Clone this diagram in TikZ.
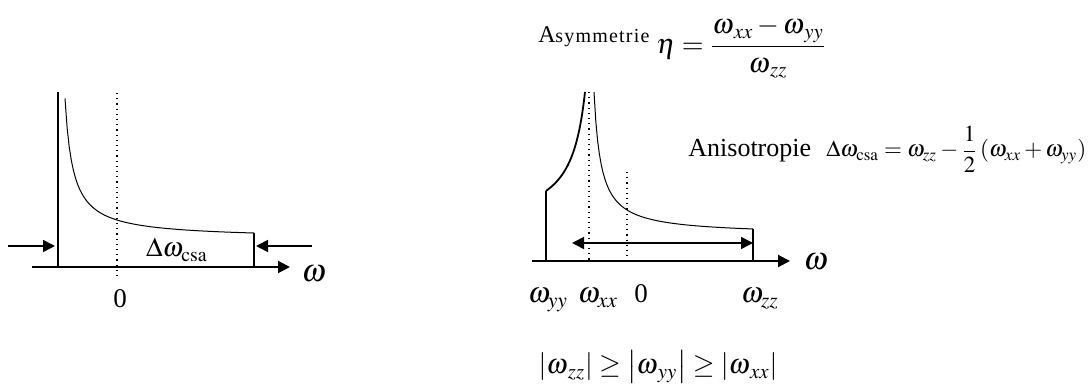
\documentclass[tikz,border=0pt]{standalone}
\usepackage{amsmath}
\usepackage{mathptmx}
\usepackage[no-math]{fontspec}
\setmainfont{Liberation Serif}
\usetikzlibrary{arrows.meta, positioning, calc}

\begin{document}
\begin{tikzpicture}[x=0.5pt, y=-0.5pt, >={Triangle[length=6pt,width=6pt]},
    axis/.style={->, line width=1pt},
    edge/.style={line width=0.9pt},
    spec/.style={line width=0.5pt},
    guide/.style={dotted, line width=0.6pt},
    lbl/.style={font=\fontsize{14.5}{16}\selectfont, inner sep=0pt, anchor=base},
    num/.style={font=\fontsize{12.5}{14}\selectfont, inner sep=0pt, anchor=base}]
  \useasboundingbox (0,0) rectangle (1092,389);

  % Isotropic-like powder pattern (left)
  \begin{scope}
    \coordinate (lax0) at (32,267);
    \coordinate (lax1) at (290,267);
    \draw[axis] (lax0) -- (lax1);
    \draw[edge] (58,92) -- (58,267);
    \draw[edge] (254,233) -- (254,267);
    \draw[guide] (117,93) -- (117,277);
    \draw[spec] plot[domain=65:254, samples=90] (\x, {267-(28.3+1121.6/(\x-57))});
    \coordinate (lin0) at (8,246);
    \coordinate (lin1) at (55,246);
    \coordinate (rin0) at (312,246);
    \coordinate (rin1) at (256,246);
    \draw[->, line width=0.8pt] (lin0) -- (lin1);
    \draw[->, line width=0.8pt] (rin0) -- (rin1);
    \node[lbl, font=\fontsize{13.5}{15}\selectfont] (dcsa) at (177,257) {$\Delta\omega_{\mathrm{csa}}$};
    \node[lbl, font=\fontsize{16}{18}\selectfont] (lomega) at (314,282) {$\omega$};
    \node[num, font=\fontsize{13.5}{15}\selectfont] (lzero) at (120,308) {0};
  \end{scope}

  % Axially asymmetric pattern (right)
  \begin{scope}
    \coordinate (rax0) at (532,261);
    \coordinate (rax1) at (790,261);
    \draw[axis] (rax0) -- (rax1);
    \draw[edge] (546,191) -- (546,261);
    \draw[edge] (753,229) -- (753,261);
    \draw[edge] plot[domain=546:585, samples=60] (\x, {261-(32+2056/(600-\x))});
    \draw[spec] plot[domain=594:753, samples=90] (\x, {261-(26+1001/(\x-587))});
    \draw[guide] (589,92) -- (589,261);
    \draw[guide] (627,172) -- (627,257);
    \coordinate (span0) at (572,243);
    \coordinate (span1) at (753,243);
    \draw[<->, line width=0.8pt] (span0) -- (span1);
    \node[lbl, font=\fontsize{16}{18}\selectfont] (romega) at (816,270) {$\omega$};
    \node[lbl] (wyy) at (548,303) {$\omega_{yy}$};
    \node[lbl] (wxx) at (598,303) {$\omega_{xx}$};
    \node[num, font=\fontsize{13.5}{15}\selectfont] (rzero) at (641,303) {0};
    \node[lbl] (wzz) at (760,303) {$\omega_{zz}$};
  \end{scope}

  % Definitions
  \node[anchor=base west, inner sep=0pt, font=\fontsize{12}{14}\selectfont] (asymA) at (538,43) {A};
  \node[anchor=base west, inner sep=0pt, font=\fontsize{10}{12}\selectfont] (asymB) at (555,43)
    {\hbox to 47pt{s\hfil y\hfil m\hfil m\hfil e\hfil t\hfil r\hfil i\hfil e}};
  \node[anchor=west, inner sep=0pt, font=\fontsize{14}{16}\selectfont] (eta) at (656,48)
    {$\eta=\dfrac{\omega_{\,xx}-\omega_{\,yy}}{\omega_{\,zz}}$};
  \node[anchor=base west, inner sep=0pt, font=\fontsize{13}{15}\selectfont] (aniso) at (688,157)
    {Anisotropie};
  \node[anchor=base west, inner sep=0pt, font=\fontsize{11.5}{13}\selectfont] (csa) at (826,157)
    {$\Delta\omega_{\mathrm{csa}}=\omega_{zz}-\dfrac{1}{2}\left(\omega_{xx}+\omega_{yy}\right)$};
  \node[inner sep=0pt, font=\fontsize{14}{16}\selectfont] (order) at (658,367)
    {$\left|\omega_{\,zz}\right|\ge\left|\omega_{\,yy}\right|\ge\left|\omega_{\,xx}\right|$};
\end{tikzpicture}
\end{document}
